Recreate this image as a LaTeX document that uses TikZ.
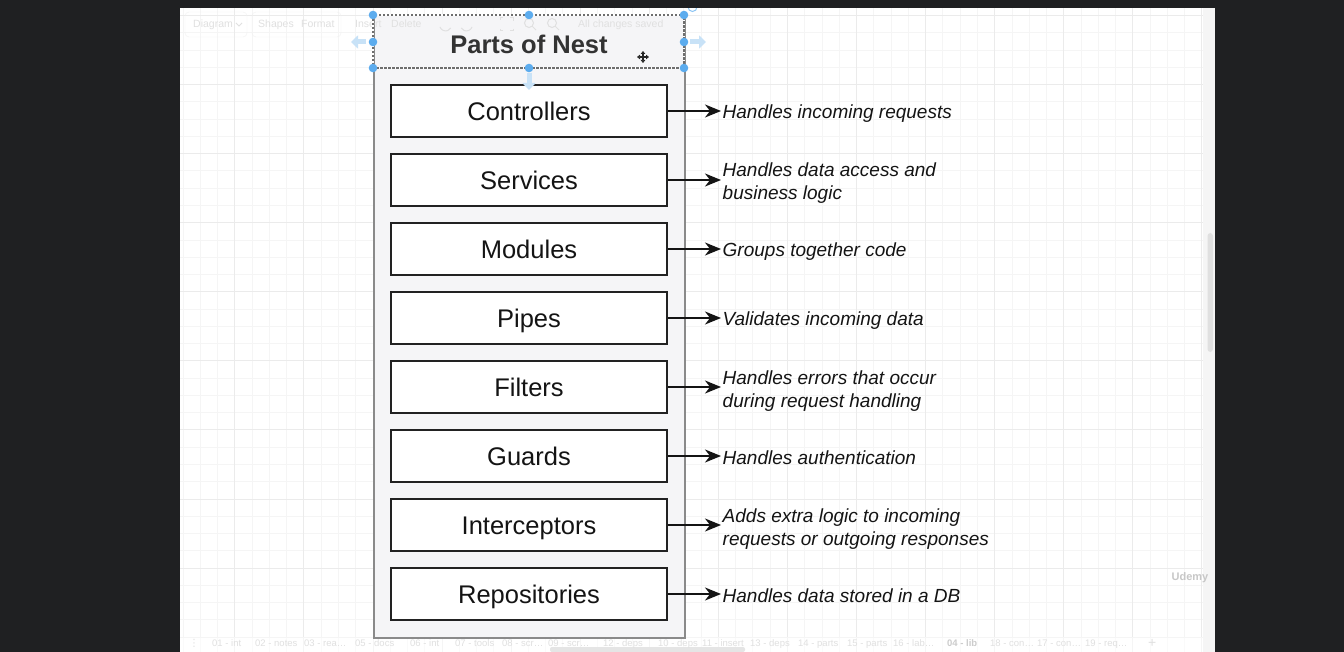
\documentclass[tikz,border=0pt]{standalone}
\usepackage{fontspec}
\setmainfont{Liberation Sans}
\newfontfamily\symfont{DejaVu Sans}
\usetikzlibrary{arrows.meta}
\definecolor{darkbg}{RGB}{31,32,34}
\definecolor{gridminor}{RGB}{245,245,245}
\definecolor{gridmajor}{RGB}{235,235,235}
\definecolor{contfill}{RGB}{245,245,247}
\definecolor{contline}{RGB}{138,138,138}
\definecolor{titlecol}{RGB}{51,51,51}
\definecolor{boxline}{RGB}{34,34,34}
\definecolor{inktext}{RGB}{20,20,20}
\definecolor{handleblue}{RGB}{92,172,238}
\definecolor{hintblue}{RGB}{200,226,247}
\definecolor{uitext}{RGB}{224,224,224}
\definecolor{uiframe}{RGB}{241,241,241}
\tikzset{
  stepbox/.style={draw=boxline, line width=2pt, fill=white, minimum width=276pt,
    minimum height=52pt, inner sep=0pt, text height=18.3pt, text depth=0pt,
    text=inktext, font=\fontsize{25.5}{30}\selectfont},
  desc/.style={inner sep=0pt, anchor=base west, text=inktext,
    font=\fontsize{19}{23}\selectfont\itshape},
  conn/.style={draw=inktext, line width=1.7pt, shorten >=1.5pt,
    -{Stealth[length=16pt,width=13pt,inset=5pt]}},
  handle/.style={fill=handleblue, draw=none},
  hint/.style={draw=hintblue, line width=5pt, -{Triangle[length=7pt,width=13pt]}},
  uilabel/.style={inner sep=0pt, anchor=base west, text=uitext,
    font=\fontsize{10.5}{12}\selectfont},
  tablabel/.style={inner sep=0pt, anchor=base west, text=uitext,
    font=\fontsize{9.5}{11}\selectfont},
}
\begin{document}
\begin{tikzpicture}[x=1pt,y=-1pt]
\useasboundingbox (0,0) rectangle (1344,652);
% canvas
\fill[white] (180,8) rectangle (1215,652);
\begin{scope}
\clip (180,8) rectangle (1203,652);
\foreach \k in {-11,...,48} \draw[gridminor, line width=1pt] ({373+17.27*\k},8) -- ({373+17.27*\k},652);
\foreach \k in {0,...,37} \draw[gridminor, line width=1pt] (180,{15.5+17.27*\k}) -- (1203,{15.5+17.27*\k});
\foreach \k in {-2,...,12} \draw[gridmajor, line width=1pt] ({373+69.08*\k},8) -- ({373+69.08*\k},652);
\foreach \k in {0,...,9} \draw[gridmajor, line width=1pt] (180,{15.5+69.08*\k}) -- (1203,{15.5+69.08*\k});
\end{scope}
% right scrollbar strip
\fill[white!96!black] (1203,8) rectangle (1215,652);
\fill[white!88!black, rounded corners=3pt] (1207.5,233) rectangle (1213,352);
% bottom tab bar
\fill[white, opacity=0.55] (180,637) rectangle (1203,652);
\fill[white!90!black, rounded corners=2pt] (550,647) rectangle (745,652);

% toolbar (faint)
\draw[uiframe, rounded corners=4pt] (185,12) rectangle (247,37);
\draw[uiframe, rounded corners=4pt] (252,12) rectangle (341,37);
\node[uilabel] (tbdiagram) at (193,28) {Diagram};
\draw[uitext, line width=0.8pt] (236,23) -- (239,26) -- (242,23);
\node[uilabel] (tbshapes) at (258,28) {Shapes};
\node[uilabel] (tbformat) at (301,28) {Format};

% container
\node[draw=contline, line width=1.5pt, fill=contfill, minimum width=311pt,
  minimum height=622pt, anchor=north west, inner sep=0pt] (cont) at (373,15) {};
\node[anchor=center, inner sep=0pt, text=titlecol,
  font=\fontsize{25.5}{30}\selectfont\bfseries] (title) at (529,44) {Parts of Nest};

% faint toolbar items over the header
\node[uilabel] (tbinsert) at (355,28) {Insert};
\node[uilabel] (tbdelete) at (391,28) {Delete};
\draw[uitext, line width=1pt] (440,27) arc[start angle=200, end angle=330, radius=6pt];
\draw[uitext, line width=1pt] (472,27) arc[start angle=-20, end angle=-150, radius=6pt];
\draw[uitext, line width=1pt] (500,20) -- (500,18) -- (503,18) (510,18) -- (513,18) -- (513,21)
  (513,29) -- (513,31) -- (510,31) (503,31) -- (500,31) -- (500,29);
\draw[uitext, line width=1pt] (529,23) circle[radius=4.5pt] (532.5,26.5) -- (536,30);
\draw[uitext, line width=1pt] (552,23) circle[radius=4.5pt] (555.5,26.5) -- (559,30);
\node[uilabel] (tbsaved) at (578,28) {All changes saved};

% selection outline of header
\draw[white, line width=1.3pt] (373,15) rectangle (684,68);
\draw[contline!80!black, line width=1.3pt, dash pattern=on 2.5pt off 1.5pt] (373,15) rectangle (684,68);

% parts
\node[stepbox] (ctrl)  at (529,111) {Controllers};
\node[stepbox] (serv)  at (529,180) {Services};
\node[stepbox] (modu)  at (529,249) {Modules};
\node[stepbox] (pipe)  at (529,318) {Pipes};
\node[stepbox] (filt)  at (529,387) {Filters};
\node[stepbox] (guard) at (529,456) {Guards};
\node[stepbox] (inter) at (529,525) {Interceptors};
\node[stepbox] (repo)  at (529,594) {Repositories};

% descriptions
\node[desc] (dctrl)  at (722.5,119) {Handles incoming requests};
\node[desc] (dserv)  at (722.5,177) {\begin{tabular}[t]{@{}l@{}}Handles data access and\\business logic\end{tabular}};
\node[desc] (dmodu)  at (722.5,257) {Groups together code};
\node[desc] (dpipe)  at (722.5,326) {Validates incoming data};
\node[desc] (dfilt)  at (722.5,384) {\begin{tabular}[t]{@{}l@{}}Handles errors that occur\\during request handling\end{tabular}};
\node[desc] (dguard) at (722.5,464) {Handles authentication};
\node[desc] (dinter) at (722.5,522) {\begin{tabular}[t]{@{}l@{}}Adds extra logic to incoming\\requests or outgoing responses\end{tabular}};
\node[desc] (drepo)  at (722.5,602) {Handles data stored in a DB};

% connectors
\foreach \a/\b in {ctrl/dctrl, serv/dserv, modu/dmodu, pipe/dpipe, filt/dfilt, guard/dguard, inter/dinter, repo/drepo}
  \draw[conn] (\a.east) -- (\a.east -| \b.west);

% selection handles and hints
\draw[hint] (366,42) -- (351,42);
\draw[hint] (690,42) -- (706,42);
\draw[hint] (529,73) -- (529,90);
\foreach \p in {(373,15),(529,15),(684,15),(373,42),(684,42),(373,68),(529,68),(684,68)}
  \fill[handle] \p circle[radius=4.3pt];
\draw[handleblue!70!white, line width=1pt] (692.5,7) circle[radius=4.5pt];
% move cursor
\draw[white, line width=2.6pt] (637,57) -- (649,57) (643,51) -- (643,63);
\draw[black!85, line width=1.1pt, {Triangle[length=3pt,width=4.5pt]}-{Triangle[length=3pt,width=4.5pt]}] (637,57) -- (649,57);
\draw[black!85, line width=1.1pt, {Triangle[length=3pt,width=4.5pt]}-{Triangle[length=3pt,width=4.5pt]}] (643,51) -- (643,63);

% bottom tabs (faint)
\node[tablabel, font=\fontsize{10}{11}\symfont] (tabdots) at (189,646) {⋮};
\node[tablabel] (t01) at (212,646) {01 - int};
\node[tablabel] (t02) at (255,646) {02 - notes};
\node[tablabel] (t03) at (304,646) {03 - rea…};
\node[tablabel] (t05) at (355,646) {05 - docs};
\node[tablabel] (t06) at (410,646) {06 - int};
\node[tablabel] (t07) at (455,646) {07 - tools};
\node[tablabel] (t08) at (502,646) {08 - scr…};
\node[tablabel] (t09) at (548,646) {09 - scr…};
\node[tablabel] (t12) at (603,646) {12 - deps};
\node[tablabel] (t10) at (658,646) {10 - deps};
\node[tablabel] (t11) at (702,646) {11 - insert};
\node[tablabel] (t13) at (750,646) {13 - deps};
\node[tablabel] (t14) at (798,646) {14 - parts};
\node[tablabel] (t15) at (847,646) {15 - parts};
\node[tablabel] (t16) at (893,646) {16 - lab…};
\node[tablabel, text=white!80!black, font=\fontsize{9.5}{11}\selectfont\bfseries] (t04) at (947,646) {04 - lib};
\node[tablabel] (t18) at (990,646) {18 - con…};
\node[tablabel] (t17) at (1037,646) {17 - con…};
\node[tablabel] (t19) at (1085,646) {19 - req…};
\node[tablabel, font=\fontsize{14}{14}\selectfont] (tplus) at (1148,647) {+};
% watermark
\node[inner sep=0pt, text=white!78!black, font=\fontsize{11}{12}\selectfont\bfseries] (wm) at (1190,578) {Udemy};

% dark surround
\fill[darkbg] (0,0) rectangle (180,652);
\fill[darkbg] (1215,0) rectangle (1344,652);
\fill[darkbg] (0,0) rectangle (1344,8);
\end{tikzpicture}
\end{document}
